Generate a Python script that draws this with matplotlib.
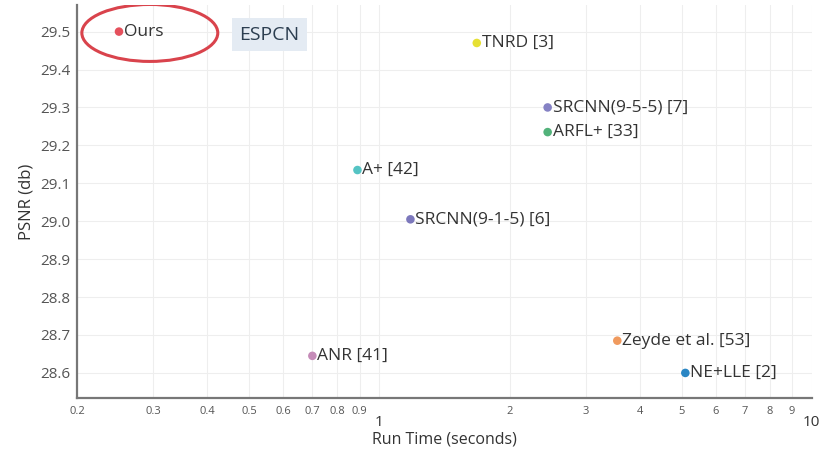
import matplotlib
matplotlib.use('Agg')
import matplotlib.pyplot as plt
from matplotlib.patches import Ellipse
from matplotlib.ticker import FixedLocator

plt.rcParams['font.family'] = ['Open Sans', 'DejaVu Sans']

# ── Data
methods  = ["Ours", "TNRD [3]", "SRCNN(9-5-5) [7]", "ARFL+ [33]", "A+ [42]",
            "SRCNN(9-1-5) [6]", "ANR [41]", "Zeyde et al. [53]", "NE+LLE [2]"]
run_time = [0.25, 1.68, 2.45, 2.45, 0.89, 1.18, 0.70, 3.55, 5.1]
psnr     = [29.50, 29.47, 29.30, 29.235, 29.135, 29.005, 28.645, 28.685, 28.60]
colors   = ["#e5505c", "#e6e034", "#8582c4", "#52b27a", "#55c4c4",
            "#7c78bc", "#c58bb8", "#f09a5e", "#2a86c4"]

major_x = [1, 10]
minor_x = [0.2, 0.3, 0.4, 0.5, 0.6, 0.7, 0.8, 0.9, 2, 3, 4, 5, 6, 7, 8, 9]
y_ticks = [28.6, 28.7, 28.8, 28.9, 29.0, 29.1, 29.2, 29.3, 29.4, 29.5]

fig = plt.figure(figsize=(8.2, 4.59), dpi=100)
ax = fig.add_axes([0.094, 0.133, 0.896, 0.856])

ax.set_xscale('log')
ax.set_xlim(0.2, 10)
ax.set_ylim(28.534, 29.57)

for x, y, c, name in zip(run_time, psnr, colors, methods):
    ax.scatter(x, y, s=38, color=c, zorder=3, edgecolors='none')
    ax.annotate(name, (x, y), xytext=(3.5, 0), textcoords='offset points',
                va='center', ha='left', fontsize=12.5, color='#333333')

# ── Axes styling
ax.xaxis.set_major_locator(FixedLocator(major_x))
ax.set_xticklabels([str(v) for v in major_x])
ax.xaxis.set_minor_locator(FixedLocator(minor_x))
ax.set_xticklabels([f"{v:g}" for v in minor_x], minor=True)
ax.tick_params(axis='x', which='major', length=0, pad=12, labelsize=11, colors='#333333')
ax.tick_params(axis='x', which='minor', length=0, pad=6, labelsize=8, colors='#555555')
ax.set_yticks(y_ticks)
ax.set_yticklabels([f"{v:.1f}" for v in y_ticks])
ax.tick_params(axis='y', length=0, pad=5, labelsize=11, colors='#555555')

ax.grid(which='both', color='#eeeeee', linewidth=0.8)
ax.set_axisbelow(True)
for s in ['top', 'right']:
    ax.spines[s].set_visible(False)
for s in ['left', 'bottom']:
    ax.spines[s].set_color('#777777')
    ax.spines[s].set_linewidth(1.6)

ax.set_xlabel("Run Time (seconds)", fontsize=11.5, color='#333333', labelpad=1)
ax.set_ylabel("PSNR (db)", fontsize=12, color='#333333', labelpad=4)

# ── Highlight around Ours + ESPCN tag
ax.add_patch(Ellipse((0.099, 0.929), 0.185, 0.145, transform=ax.transAxes,
                     fill=False, edgecolor='#d9434c', linewidth=2.2, zorder=4))
ax.text(0.262, 0.925, "ESPCN", transform=ax.transAxes, fontsize=14,
        color='#2c3e50', ha='center', va='center',
        bbox=dict(boxstyle='square,pad=0.4', facecolor='#e4ebf3', edgecolor='none'))

plt.savefig("out.png", dpi=100)
